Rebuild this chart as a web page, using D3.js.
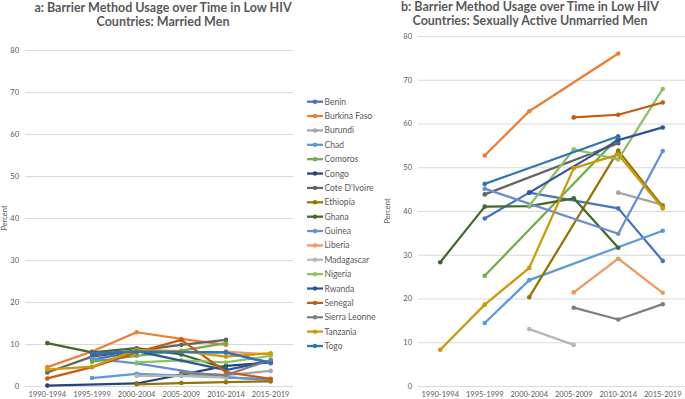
<!DOCTYPE html>
<html lang="en">
<head>
<meta charset="UTF-8">
<script src="https://cdnjs.cloudflare.com/ajax/libs/d3/7.8.5/d3.min.js"></script>
<style>
  body { margin: 0; background: #fff; }
  text { font-family: Lato, Calibri, sans-serif; fill: #595959; }
  .title { font-weight: bold; font-size: 12.5px; }
  .tick text { font-size: 7.5px; }
  .grid line { stroke: #d9d9d9; }
  .grid path { stroke: none; }
  .legend text { font-size: 8.5px; }
</style>
</head>
<body>
<svg class="chart"></svg>
<script>

const periods = ["1990-1994", "1995-1999", "2000-2004", "2005-2009", "2010-2014", "2015-2019"];
const yTicks = [0, 10, 20, 30, 40, 50, 60, 70, 80];

const countries = ["Benin", "Burkina Faso", "Burundi", "Chad", "Comoros", "Congo", "Cote D'Ivoire",
  "Ethiopia", "Ghana", "Guinea", "Liberia", "Madagascar", "Nigeria", "Rwanda", "Senegal",
  "Sierra Leonne", "Tanzania", "Togo"];

const colors = ["#4472c4", "#ed7d31", "#a5a5a5", "#5b9bd5", "#70ad47", "#264478", "#636363",
  "#997300", "#43682b", "#698ed0", "#f1975a", "#b7b7b7", "#8cc168", "#2f5597", "#c55a11",
  "#7f7f7f", "#cc9a06", "#2e75b6"];

// a: married men (percent), null = no survey in that period
const married = [
  [null, 6.3, 8.2, null, 8.0, 5.6],     // Benin
  [4.5, 8.2, 12.8, 11.2, 9.8, null],    // Burkina Faso
  [null, null, null, 3.0, 2.6, 3.6],    // Burundi
  [null, 1.9, 2.9, null, 2.1, 1.4],     // Chad
  [null, 5.8, 7.2, 8.4, 10.2, null],    // Comoros
  [0.1, null, 0.6, null, 4.8, 5.6],     // Congo
  [3.2, 7.0, 8.4, 9.8, 11.0, null],     // Cote D'Ivoire
  [null, null, 0.4, 0.7, 0.9, 1.1],     // Ethiopia
  [10.2, 8.0, 9.0, 7.5, 4.2, null],     // Ghana
  [null, 6.5, 5.4, null, 2.0, 1.6],     // Guinea
  [null, null, null, null, 8.2, 7.5],   // Liberia
  [null, null, 2.4, 2.4, 2.0, null],    // Madagascar
  [null, null, 5.6, 6.1, 5.6, 7.2],     // Nigeria
  [null, 7.6, 8.3, null, 3.8, 6.0],     // Rwanda
  [1.8, 4.5, 8.0, 11.0, 3.3, 1.7],      // Senegal
  [null, null, null, 3.2, 2.6, 6.2],    // Sierra Leonne
  [3.9, 4.6, 8.6, 8.3, 7.0, 7.8],       // Tanzania
  [null, 7.8, 8.2, null, 8.0, 5.4]      // Togo
];

// b: sexually active unmarried men (percent)
const unmarried = [
  [null, 38.3, 44.2, null, 40.6, 28.6],   // Benin
  [null, 52.7, 62.8, null, 76.0, null],   // Burkina Faso
  [null, null, null, null, 44.2, 41.4],   // Burundi
  [null, 14.4, 24.2, null, null, 35.5],   // Chad
  [null, 25.2, null, null, 56.8, null],   // Comoros
  [null, null, null, null, null, null],   // Congo
  [null, 43.8, null, null, 55.5, null],   // Cote D'Ivoire
  [null, null, 20.3, null, 53.8, 41.0],   // Ethiopia
  [28.3, 41.0, 41.1, 42.9, 31.6, null],   // Ghana
  [null, 45.1, null, null, 34.8, 53.7],   // Guinea
  [null, null, null, 21.4, 29.1, 21.3],   // Liberia
  [null, null, 13.0, 9.4, null, null],    // Madagascar
  [null, null, 41.2, 54.1, 51.8, 67.9],   // Nigeria
  [null, null, 44.2, null, 56.2, 59.1],   // Rwanda
  [null, null, null, 61.4, 62.0, 64.8],   // Senegal
  [null, null, null, 17.9, 15.2, 18.7],   // Sierra Leonne
  [8.3, 18.6, 27.0, 49.8, 52.9, 40.6],    // Tanzania
  [null, 46.2, null, null, 57.1, null]    // Togo
];

const W = 685, H = 399;
const svg = d3.select(".chart").attr("width", W).attr("height", H);

function panel(opts) {
  const x = d3.scaleBand().domain(periods).range([opts.left, opts.right]);
  const y = d3.scaleLinear().domain([0, 80]).range([opts.bottom, opts.top]);
  const g = svg.append("g");

  // gridlines
  g.append("g")
      .attr("class", "grid")
      .attr("transform", `translate(${opts.left},0)`)
      .call(d3.axisLeft(y).tickValues(yTicks).tickSize(-(opts.right - opts.left)).tickFormat(""));

  // y labels
  g.append("g")
      .attr("transform", `translate(${opts.left - 6},0)`)
      .call(d3.axisLeft(y).tickValues(yTicks).tickSize(0).tickPadding(0))
      .call(a => a.select(".domain").remove());

  // x labels
  g.append("g")
      .attr("transform", `translate(0,${opts.bottom + 3})`)
      .call(d3.axisBottom(x).tickSize(0).tickPadding(3))
      .call(a => a.select(".domain").remove());

  g.append("text")
      .attr("transform", `translate(${opts.ylabX},${opts.ylabY}) rotate(-90)`)
      .attr("text-anchor", "middle")
      .style("font-size", "7.5px")
      .text("Percent");

  opts.title.forEach((t, i) => {
    g.append("text")
        .attr("class", "title")
        .attr("x", opts.titleX)
        .attr("y", opts.titleY + i * 14)
        .attr("text-anchor", "middle")
        .text(t);
  });

  const cx = i => x(periods[i]) + x.bandwidth() / 2;
  const line = d3.line().x(d => cx(d.i)).y(d => y(d.v));

  opts.data.forEach((vals, k) => {
    const pts = vals.map((v, i) => ({i, v})).filter(d => d.v != null);
    if (!pts.length) return;
    const s = g.append("g");
    s.append("path")
        .attr("d", line(pts))
        .attr("fill", "none")
        .attr("stroke", colors[k])
        .attr("stroke-width", 2.25)
        .attr("stroke-linejoin", "round");
    s.selectAll("circle")
      .data(pts)
      .enter().append("circle")
        .attr("cx", d => cx(d.i))
        .attr("cy", d => y(d.v))
        .attr("r", 2.3)
        .attr("fill", colors[k]);
  });
}

panel({
  left: 25, right: 293, top: 50, bottom: 386,
  data: married,
  title: ["a: Barrier Method Usage over Time in Low HIV", "Countries: Married Men"],
  titleX: 163, titleY: 12,
  ylabX: 7, ylabY: 218
});

panel({
  left: 418, right: 685, top: 36, bottom: 386,
  data: unmarried,
  title: ["b: Barrier Method Usage over Time in Low HIV", "Countries: Sexually Active Unmarried Men"],
  titleX: 530, titleY: 11,
  ylabX: 390, ylabY: 211
});

// legend
const legend = svg.append("g").attr("class", "legend");
const ly = d3.scalePoint().domain(countries).range([101.7, 346]);
const items = legend.selectAll("g")
  .data(countries)
  .enter().append("g")
    .attr("transform", d => `translate(307,${ly(d)})`);
items.append("line")
    .attr("x1", 0).attr("x2", 16)
    .attr("stroke", (d, i) => colors[i])
    .attr("stroke-width", 2.25);
items.append("circle")
    .attr("cx", 8).attr("r", 2.2)
    .attr("fill", (d, i) => colors[i]);
items.append("text")
    .attr("x", 17.5)
    .attr("dy", "0.35em")
    .text(d => d);

</script>
</body>
</html>
